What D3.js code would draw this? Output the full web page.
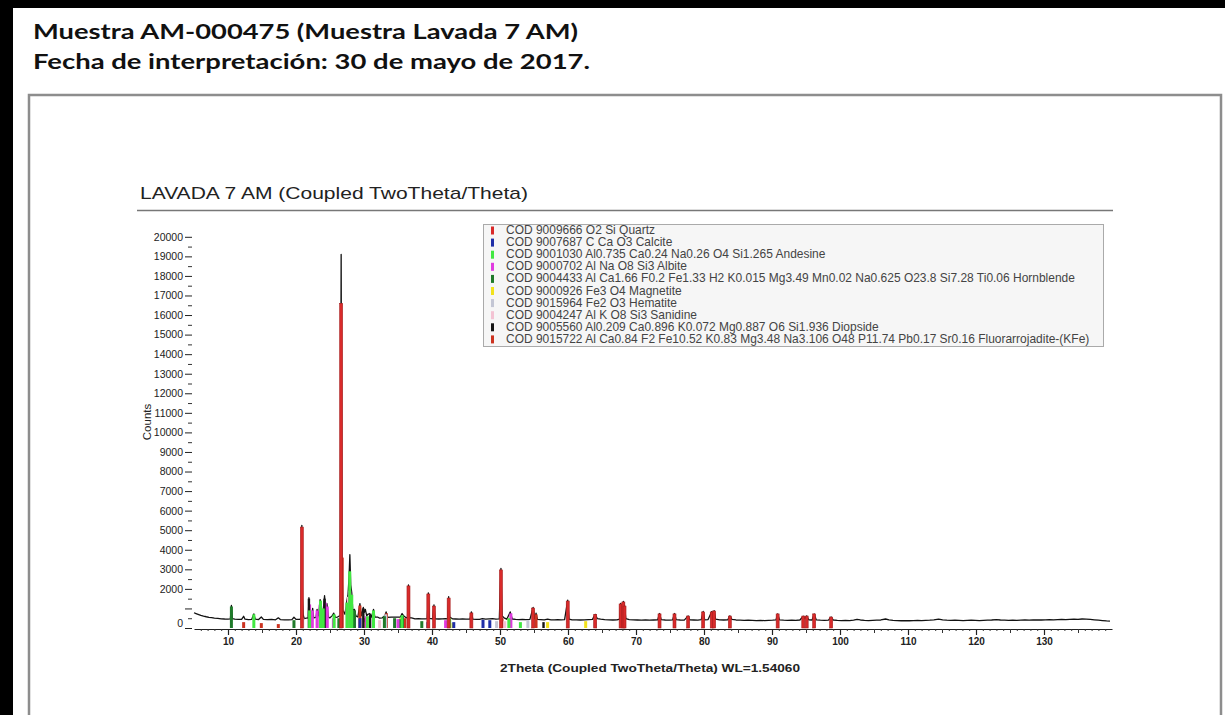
<!DOCTYPE html>
<html><head><meta charset="utf-8">
<script src="https://cdn.jsdelivr.net/npm/d3@7/dist/d3.min.js"></script>
<style>html,body{margin:0;padding:0;background:#fff;overflow:hidden}</style>
</head><body><svg id="c" width="1225" height="715"></svg>
<script>
// ---- Report header ----
const headerLines = [
  "Muestra AM-000475 (Muestra Lavada 7 AM)",
  "Fecha de interpretación: 30 de mayo de 2017."
];
const chartTitle = "LAVADA 7 AM (Coupled TwoTheta/Theta)";
const xAxisTitle = "2Theta (Coupled TwoTheta/Theta) WL=1.54060";
const yAxisTitle = "Counts";

// ---- Axis ticks ----
const xTickLabels = [10,20,30,40,50,60,70,80,90,100,110,120,130];
const yTickLabels = [0,2000,3000,4000,5000,6000,7000,8000,9000,10000,11000,12000,13000,14000,15000,16000,17000,18000,19000,20000];

// ---- Phase legend ----
const phaseNames = [
  "COD 9009666 O2 Si Quartz",
  "COD 9007687 C Ca O3 Calcite",
  "COD 9001030 Al0.735 Ca0.24 Na0.26 O4 Si1.265 Andesine",
  "COD 9000702 Al Na O8 Si3 Albite",
  "COD 9004433 Al Ca1.66 F0.2 Fe1.33 H2 K0.015 Mg3.49 Mn0.02 Na0.625 O23.8 Si7.28 Ti0.06 Hornblende",
  "COD 9000926 Fe3 O4 Magnetite",
  "COD 9015964 Fe2 O3 Hematite",
  "COD 9004247 Al K O8 Si3 Sanidine",
  "COD 9005560 Al0.209 Ca0.896 K0.072 Mg0.887 O6 Si1.936 Diopside",
  "COD 9015722 Al Ca0.84 F2 Fe10.52 K0.83 Mg3.48 Na3.106 O48 P11.74 Pb0.17 Sr0.16 Fluorarrojadite-(KFe)"
];

// ---- Phase sticks: [2theta, counts] ----
const quartz = [[20.86,5160],[26.64,16600],[36.54,2150],[39.46,1740],[40.29,1120],[42.45,1530],[45.79,770],[50.14,2970],[54.87,1020],[59.96,1380],[64.0,700],[67.74,1230],[68.14,1330],[68.31,1120],[73.46,720],[75.66,720],[77.67,610],[79.88,820],[81.14,820],[81.49,870],[83.8,610],[90.83,720],[94.6,610],[95.1,610],[96.2,720],[98.7,560]];
const calcite = [[29.4,500],[39.4,300],[43.2,300],[47.5,420],[48.5,400]];
const andesine = [[13.8,700],[22.0,900],[23.6,1400],[24.0,1000],[25.6,700],[27.5,1300],[27.9,2900],[28.2,1700],[30.5,600],[31.4,900],[35.6,650],[42.6,500],[51.3,500],[53.0,300]];
const albite = [[22.0,1200],[22.4,900],[23.1,900],[23.55,1200],[24.3,1300],[24.6,1100],[25.5,500],[27.9,1900],[28.1,1500],[30.3,600],[35.0,450],[42.0,400],[51.6,750]];
const hornblende = [[10.5,1100],[19.7,400],[26.3,500],[28.6,900],[33.0,600],[34.5,500],[35.3,450],[38.5,350]];
const magnetite = [[30.1,300],[35.4,500],[43.1,250],[57.0,300],[62.6,350]];
const hematite = [[24.1,450],[33.2,700],[35.6,550],[49.5,350],[54.1,400],[64.0,300]];
const sanidine = [[21.0,500],[23.5,600],[25.6,500],[27.5,1200],[27.7,1600],[30.8,500],[32.3,400],[50.7,350]];
const diopside = [[21.9,1500],[24.2,1500],[29.9,1000],[30.9,700],[35.7,600],[56.4,300]];
const fluorarrojadite = [[12.3,300],[14.9,250],[17.4,200],[26.8,3600],[29.4,1150],[30.1,500],[33.3,750],[36.0,500],[50.3,500],[55.3,700],[67.9,600]];

// ---- Measured scan: [2theta, counts] ----
const scan = [
[5.0,780],[5.3,740],[5.6,700],[6.0,650],[6.4,610],[6.8,575],[7.2,545],[7.6,525],[8.0,505],[8.5,490],[9.0,470],[9.5,460],[10.0,455],[10.35,470],[10.5,1150],[10.65,480],[11.0,450],[11.5,440],[12.0,445],[12.3,600],[12.5,450],[13.0,430],[13.5,445],[13.8,720],[14.0,450],[14.5,430],[14.9,560],[15.2,440],[15.8,425],[16.4,440],[17.0,420],[17.4,520],[17.7,430],[18.3,420],[18.9,415],[19.4,430],[19.7,550],[20.0,440],[20.5,440],[20.75,470],[20.86,5250],[20.95,1500],[21.05,700],[21.2,480],[21.5,500],[21.8,520],[21.9,1550],[22.05,900],[22.3,560],[22.45,1000],[22.6,520],[22.95,540],[23.1,950],[23.3,560],[23.55,1450],[23.75,700],[24.0,900],[24.2,1650],[24.35,1000],[24.55,1250],[24.75,560],[25.0,520],[25.3,620],[25.55,760],[25.8,540],[26.1,560],[26.3,600],[26.5,640],[26.64,19100],[26.75,3700],[26.9,900],[27.2,700],[27.45,1350],[27.65,1700],[27.8,2600],[27.92,3750],[28.05,2200],[28.2,1800],[28.35,900],[28.6,950],[28.8,620],[29.1,560],[29.4,1250],[29.6,620],[29.9,1050],[30.05,800],[30.2,950],[30.4,620],[30.55,700],[30.85,740],[31.1,560],[31.4,950],[31.6,560],[32.0,560],[32.3,500],[32.7,520],[33.05,620],[33.25,820],[33.5,540],[34.0,560],[34.5,560],[35.0,560],[35.35,560],[35.6,740],[35.9,600],[36.2,520],[36.4,540],[36.54,2200],[36.7,520],[37.0,520],[37.5,470],[38.0,480],[38.5,470],[39.0,470],[39.3,480],[39.46,1800],[39.6,490],[40.1,470],[40.29,1180],[40.45,470],[41.0,460],[41.5,470],[42.0,480],[42.3,470],[42.45,1600],[42.6,560],[43.0,470],[43.5,460],[44.0,450],[44.5,470],[45.0,450],[45.6,460],[45.79,820],[46.0,450],[46.5,440],[47.0,440],[47.4,480],[47.9,450],[48.4,470],[48.9,480],[49.4,450],[49.9,470],[50.14,3050],[50.3,620],[50.6,520],[51.0,450],[51.5,820],[51.8,460],[52.3,440],[52.8,430],[53.3,440],[53.8,430],[54.4,440],[54.87,1050],[55.1,480],[55.3,760],[55.5,440],[56.0,430],[56.5,420],[57.0,450],[57.5,420],[58.0,420],[58.5,430],[59.0,420],[59.5,430],[59.96,1420],[60.15,450],[60.6,420],[61.2,420],[61.8,410],[62.4,420],[63.0,430],[63.6,440],[64.0,700],[64.3,480],[64.8,450],[65.4,430],[66.0,420],[66.6,410],[67.2,420],[67.6,460],[67.74,1260],[67.95,800],[68.14,1360],[68.31,1150],[68.5,480],[69.0,430],[69.6,420],[70.2,410],[70.8,400],[71.4,410],[72.0,400],[72.6,410],[73.2,420],[73.46,740],[73.7,430],[74.3,410],[74.9,400],[75.4,420],[75.66,740],[75.9,430],[76.5,410],[77.1,400],[77.67,620],[77.9,420],[78.5,410],[79.1,400],[79.6,430],[79.88,850],[80.1,420],[80.6,430],[81.14,840],[81.3,600],[81.49,890],[81.7,450],[82.3,420],[82.9,410],[83.5,420],[83.8,620],[84.1,440],[84.7,410],[85.3,400],[85.9,390],[86.5,400],[87.1,390],[87.7,380],[88.3,390],[88.9,380],[89.5,390],[90.1,400],[90.6,420],[90.83,720],[91.1,420],[91.7,400],[92.3,390],[92.9,400],[93.5,390],[94.1,410],[94.6,600],[94.85,480],[95.1,620],[95.4,420],[95.9,410],[96.2,720],[96.5,420],[97.1,400],[97.7,390],[98.3,400],[98.7,560],[99.0,410],[99.6,390],[100.2,380],[100.8,390],[101.4,380],[102.0,400],[102.5,440],[103.0,410],[103.6,390],[104.2,380],[104.8,390],[105.4,400],[106.0,410],[106.7,460],[107.2,420],[107.8,390],[108.4,380],[109.0,370],[109.6,380],[110.2,370],[110.8,380],[111.4,390],[112.0,380],[112.6,390],[113.2,400],[113.8,420],[114.5,450],[115.1,420],[115.7,400],[116.3,390],[116.9,400],[117.5,390],[118.1,380],[118.7,390],[119.3,400],[119.9,390],[120.5,380],[121.1,390],[121.7,400],[122.3,410],[123.0,430],[123.6,410],[124.2,400],[124.8,390],[125.4,400],[126.0,390],[126.6,400],[127.2,410],[127.8,400],[128.4,410],[129.0,420],[129.6,410],[130.2,420],[130.8,430],[131.4,420],[132.0,430],[132.6,440],[133.2,430],[133.8,440],[134.4,450],[135.0,440],[135.6,460],[136.2,450],[136.8,440],[137.4,420],[138.0,400],[138.6,380],[139.2,360],[139.7,350]
];

// ---- Drawing ----
const W = 1225, H = 715;
const svg = d3.select("#c");
const sans = "'Liberation Sans', Arial, sans-serif";

svg.append("rect").attr("width", W).attr("height", H).attr("fill", "#fff");

// page borders
svg.append("rect").attr("x", 0).attr("y", 0).attr("width", W).attr("height", 8).attr("fill", "#000");
svg.append("rect").attr("x", 0).attr("y", 0).attr("width", 13).attr("height", H).attr("fill", "#000");
svg.append("path").attr("d", `M29,${H + 5}V95H1221V${H + 5}`)
  .attr("fill", "none").attr("stroke", "#8d8d8d").attr("stroke-width", 2.5);

// header lines
const headerWidths = [545, 557];
headerLines.forEach((t, i) => {
  svg.append("text").attr("x", 33).attr("y", 39 + i * 30)
    .attr("font-family", "Lato, 'Open Sans', sans-serif").attr("font-weight", 700)
    .attr("font-size", 21).attr("fill", "#111")
    .attr("textLength", headerWidths[i]).attr("lengthAdjust", "spacingAndGlyphs")
    .text(t);
});

// chart title and rule
svg.append("text").attr("x", 140).attr("y", 199)
  .attr("font-family", sans).attr("font-size", 17).attr("fill", "#222")
  .attr("textLength", 388).attr("lengthAdjust", "spacingAndGlyphs")
  .text(chartTitle);
svg.append("line").attr("x1", 137).attr("x2", 1113).attr("y1", 210.5).attr("y2", 210.5)
  .attr("stroke", "#777").attr("stroke-width", 1.6);

// scales
const x = d3.scaleLinear().domain([5, 140]).range([194, 1112]);
const y = d3.scaleLinear().domain([0, 20000]).range([628, 236.8]);

// x axis: minor (1°), mid (5°), major (10°, labelled)
const xAxisY = 629;
const minor = svg.append("g").attr("transform", `translate(0,${xAxisY})`)
  .call(d3.axisBottom(x).tickValues(d3.range(6, 140, 1)).tickSize(2).tickSizeOuter(0).tickFormat(""));
minor.select(".domain").attr("stroke", "#222").attr("stroke-width", 1.2);
minor.selectAll(".tick line").attr("stroke", "#333");
const mid = svg.append("g").attr("transform", `translate(0,${xAxisY})`)
  .call(d3.axisBottom(x).tickValues(d3.range(15, 140, 10)).tickSize(4).tickFormat(""));
mid.select(".domain").remove();
mid.selectAll(".tick line").attr("stroke", "#333");
const major = svg.append("g").attr("transform", `translate(0,${xAxisY})`)
  .call(d3.axisBottom(x).tickValues(xTickLabels).tickSize(6).tickPadding(3));
major.select(".domain").remove();
major.selectAll(".tick line").attr("stroke", "#222").attr("stroke-width", 1.2);
major.selectAll(".tick text").attr("font-family", sans).attr("font-size", 10)
  .attr("font-weight", 700).attr("fill", "#222");

// y axis: labelled majors, 1000 tick unlabelled, minor at 500s
const yMajorVals = d3.range(0, 20001, 1000);
const yMinor = svg.append("g").attr("transform", "translate(192,0)")
  .call(d3.axisLeft(y).tickValues(d3.range(500, 20500, 1000)).tickSize(4).tickFormat(""));
yMinor.select(".domain").remove();
yMinor.selectAll(".tick line").attr("stroke", "#333");
const yMajor = svg.append("g").attr("transform", "translate(192,0)")
  .call(d3.axisLeft(y).tickValues(yMajorVals).tickSize(7).tickPadding(2)
    .tickFormat(d => yTickLabels.includes(d) ? String(d) : ""));
yMajor.select(".domain").remove();
yMajor.selectAll(".tick line").attr("stroke", "#222");
yMajor.selectAll(".tick text").attr("font-family", sans).attr("font-size", 10.5)
  .attr("fill", "#222").attr("y", d => d === 0 ? -5 : 0);

// axis titles
svg.append("text").attr("x", 650).attr("y", 672).attr("text-anchor", "middle")
  .attr("font-family", sans).attr("font-size", 11).attr("font-weight", 700).attr("fill", "#222")
  .attr("textLength", 300).attr("lengthAdjust", "spacingAndGlyphs")
  .text(xAxisTitle);
svg.append("text").attr("transform", "translate(151,422) rotate(-90)").attr("text-anchor", "middle")
  .attr("font-family", sans).attr("font-size", 11.5).attr("fill", "#222")
  .text(yAxisTitle);

// measured scan
const plot = svg.append("g");
plot.append("path").datum(scan)
  .attr("d", d3.line().x(d => x(d[0])).y(d => y(d[1])))
  .attr("fill", "none").attr("stroke", "#111").attr("stroke-width", 1.3)
  .attr("stroke-linejoin", "round");

// phase sticks, drawn back to front so Quartz sits on top
const phaseColors = ["#d92a2a", "#1f2fa8", "#42e842", "#e03ae0", "#1f7a2a", "#f2e21c", "#c3c6d4", "#f3c3d3", "#151515", "#cc3320"];
const phaseData = [quartz, calcite, andesine, albite, hornblende, magnetite, hematite, sanidine, diopside, fluorarrojadite];
for (let i = phaseData.length - 1; i >= 0; i--) {
  if (i === 8) continue; // diopside sticks go in after the albite ones
  plot.append("g").selectAll("rect").data(phaseData[i]).join("rect")
    .attr("x", d => x(d[0]) - 1.5).attr("width", 3)
    .attr("y", d => y(d[1])).attr("height", d => y(0) - y(d[1]))
    .attr("fill", phaseColors[i])
    .attr("stroke", i === 0 ? "#a52020" : "none").attr("stroke-width", 0.6);
  if (i === 3) {
    plot.append("g").selectAll("rect").data(diopside).join("rect")
      .attr("x", d => x(d[0]) - 1.2).attr("width", 2.4)
      .attr("y", d => y(d[1])).attr("height", d => y(0) - y(d[1]))
      .attr("fill", phaseColors[8]);
  }
}

// legend box
const lg = svg.append("g");
lg.append("rect").attr("x", 483.5).attr("y", 224.5).attr("width", 620).attr("height", 122)
  .attr("fill", "#f6f6f6").attr("stroke", "#aaa").attr("stroke-width", 1);
const rowY = i => 230.5 + i * 12.1;
lg.selectAll("rect.sw").data(phaseNames).join("rect").attr("class", "sw")
  .attr("x", 491).attr("y", (d, i) => rowY(i) - 4).attr("width", 3).attr("height", 8)
  .attr("fill", (d, i) => phaseColors[i]);
const texts = lg.selectAll("text").data(phaseNames).join("text")
  .attr("x", 506).attr("y", (d, i) => rowY(i) + 3.5)
  .attr("font-family", sans).attr("font-size", 10).attr("fill", "#444")
  .text(d => d);
// size legend font so the Hornblende row spans its measured width
const w5 = texts.nodes()[4].getComputedTextLength();
texts.attr("font-size", 10 * 569 / w5);
</script></body></html>
